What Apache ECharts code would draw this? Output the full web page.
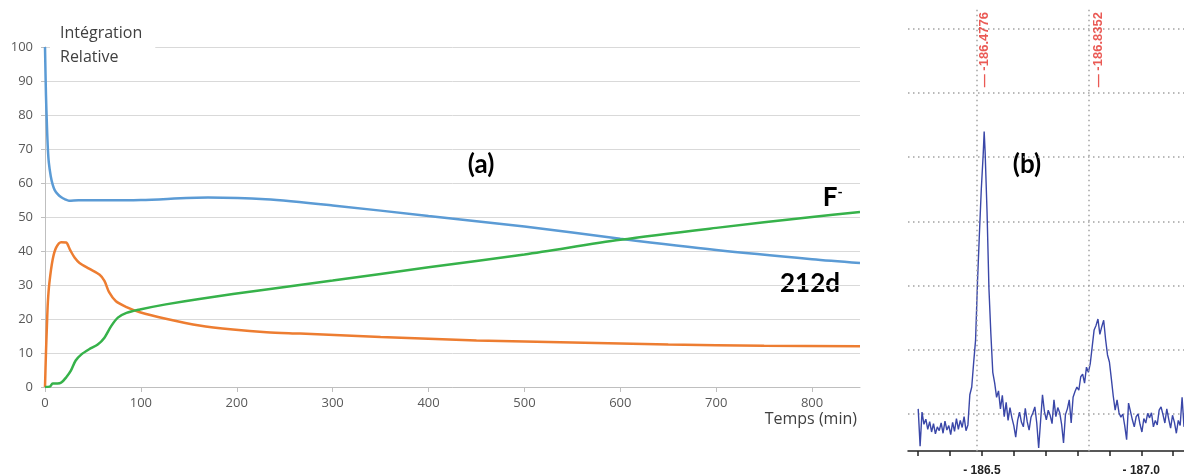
<!DOCTYPE html>
<html><head><meta charset="utf-8">
<script src="https://cdn.jsdelivr.net/npm/echarts@6/dist/echarts.min.js"></script>
<style>html,body{margin:0;padding:0;background:#fff}#c{width:1184px;height:474px}</style>
</head><body><div id="c"></div>
<script>
// ---------- panel (a): relative integration vs time ----------
const timeTicks = [0, 100, 200, 300, 400, 500, 600, 700, 800];
const blue212d = [[0,100],[1,86],[2,77],[3,70],[4,66],[6,62],[8,59.5],[10,58],[13,56.8],[17,55.8],[21,55.2],[25,54.8],[35,54.9],[60,54.9],[100,55.0],[170,55.7],[230,55.2],[300,53.4],[400,50.3],[500,47.2],[600,43.6],[700,40.3],[800,37.6],[850,36.5]];
const orangeInter = [[0,0],[1,10],[2,18],[3,25],[4.6,30.7],[8,37.5],[11.6,41],[16.8,42.6],[22,42.5],[26,40.4],[31,38],[36,36.5],[46,34.8],[57,33],[62,31.2],[67,27.8],[74,25.2],[85,23.5],[99,22],[126,20.1],[161,18.1],[196,16.9],[231,16.1],[266,15.7],[350,14.7],[450,13.7],[550,13.1],[650,12.5],[750,12.1],[850,12.0]];
const greenF = [[0,0],[5,0.1],[8,1.0],[13,1.0],[17,1.3],[22,2.8],[27,4.8],[32,7.8],[38,9.6],[46,11.1],[55,12.5],[62,14.5],[69,17.9],[76,20.4],[85,21.8],[99,22.8],[126,24.3],[161,25.9],[231,28.7],[300,31.3],[400,35.2],[500,39.0],[600,43.3],[700,46.8],[800,50.0],[850,51.5]];

// ---------- panel (b): 19F NMR spectrum ----------
const specPpm = [
 -186.300,-186.306,-186.312,-186.318,-186.324,-186.330,-186.336,-186.342,-186.348,-186.354,
 -186.360,-186.366,-186.372,-186.378,-186.384,-186.390,-186.396,-186.402,-186.408,-186.414,
 -186.420,-186.426,-186.432,-186.438,-186.444,-186.450,-186.456,-186.462,-186.468,-186.474,
 -186.480,-186.486,-186.492,-186.498,-186.504,-186.507,-186.510,-186.516,-186.522,-186.528,
 -186.534,-186.540,-186.546,-186.552,-186.558,-186.564,-186.570,-186.576,-186.582,-186.588,
 -186.594,-186.600,-186.606,-186.612,-186.618,-186.624,-186.630,-186.636,-186.642,-186.648,
 -186.654,-186.660,-186.666,-186.672,-186.678,-186.684,-186.690,-186.696,-186.702,-186.708,
 -186.714,-186.720,-186.726,-186.732,-186.738,-186.744,-186.750,-186.756,-186.762,-186.768,
 -186.774,-186.780,-186.786,-186.792,-186.798,-186.804,-186.810,-186.816,-186.822,-186.828,
 -186.834,-186.840,-186.846,-186.852,-186.858,-186.864,-186.870,-186.876,-186.882,-186.888,
 -186.894,-186.900,-186.906,-186.912,-186.918,-186.924,-186.930,-186.936,-186.942,-186.948,
 -186.954,-186.960,-186.966,-186.972,-186.978,-186.984,-186.990,-186.996,-187.002,-187.008,
 -187.014,-187.020,-187.026,-187.032,-187.038,-187.044,-187.050,-187.056,-187.062,-187.068,
 -187.074,-187.080,-187.086,-187.092,-187.098,-187.104,-187.110,-187.116,-187.122,-187.128,
 -187.134];
const specInt = [
 10.8, 5.0,10.3, 8.4, 9.2, 7.6, 8.8, 7.2, 8.5, 6.9,
  8.0, 7.4, 8.6, 7.0, 8.9, 7.5, 8.2, 6.8, 8.7, 7.3,
  9.3, 7.6, 9.0, 7.9, 9.6, 7.4, 8.3,13.0,14.2,18.0,
 21.5,30.5,38.0,45.0,50.5,54.0,50.8,41.5,29.5,22.5,
 16.5,14.8,12.6,13.6,10.8,12.9, 9.6,11.8, 9.0,11.0,
  9.4, 8.2, 6.4, 9.0,10.3, 8.7, 8.0,10.9, 8.8, 7.5,
  9.5,10.2,11.1, 8.6, 4.7, 8.9,13.0,10.4, 9.1,10.6,
  9.8, 8.5,12.2, 9.6,11.0,10.2, 8.4, 5.5, 9.9,10.8,
 12.2, 8.6,12.6,13.5,14.2,13.7,15.8,16.2,14.8,17.3,
 16.5,17.9,20.5,23.1,23.8,24.8,22.4,23.6,24.6,21.6,
 19.2,18.1,15.5,12.8,10.6,12.2,10.2, 9.5,10.0, 8.2,
  6.0,11.7,10.4, 9.1, 8.0, 9.6,10.0, 8.4, 7.2, 9.3,
  8.6,10.1, 9.4,10.2, 8.0, 9.0, 8.3,10.6,11.1, 9.9,
  8.6,10.8, 9.2, 7.8, 9.8, 8.7, 7.0, 9.0, 8.2,12.6,
  8.0];
const specTicks = [-186.3,-186.4,-186.5,-186.6,-186.7,-186.8,-186.9,-187.0,-187.1];
const specTickLabels = [-186.5, -187.0];
const peakPpm = [-186.5063, -186.8656];
const peakText = ['-186.4776', '-186.8352'];
const peakLabelLevel = 60.9;
const guidePpm = [-186.4844, -186.8366];

const chart = echarts.init(document.getElementById('c'), null, {renderer: 'canvas'});
const lineBase = {type: 'line', xAxisIndex: 0, yAxisIndex: 0, showSymbol: false, smooth: 0.3, silent: true};
const dotted = {color: '#a3a3a3', type: [1.5, 3.5], width: 1.5};

chart.setOption({
  animation: false,
  backgroundColor: '#fff',
  title: {
    text: 'Intégration\nRelative', left: 50, top: 21, padding: [0, 13, 0, 10], backgroundColor: '#fff',
    textStyle: {fontFamily: 'Open Sans', fontSize: 16, fontWeight: 'normal', color: '#404040', lineHeight: 24}
  },
  grid: [
    {left: 45, right: 324, top: 47, bottom: 87, containLabel: false, outerBoundsMode: 'none'},
    {left: 908, right: 0, top: 7, bottom: -4.2, containLabel: false, outerBoundsMode: 'none'}
  ],
  xAxis: [
    {gridIndex: 0, type: 'value', min: 0, max: 850, interval: 100,
     axisLine: {show: true, onZero: false, lineStyle: {color: '#bfbfbf', width: 1}},
     axisTick: {show: true, length: 5, customValues: timeTicks, lineStyle: {color: '#bfbfbf'}},
     axisLabel: {customValues: timeTicks, color: '#595959', fontSize: 13, fontFamily: 'Open Sans', margin: 10},
     splitLine: {show: false},
     name: 'Temps (min)', nameLocation: 'end', nameGap: -3, nameMoveOverlap: false,
     nameTextStyle: {align: 'right', verticalAlign: 'top', padding: [24, 0, 0, 0], fontSize: 16, color: '#404040', fontFamily: 'Open Sans'}},
    {gridIndex: 1, type: 'value', inverse: true, min: -187.134, max: -186.268, offset: -27.2,
     axisLine: {show: true, onZero: false, lineStyle: {color: '#222', width: 1.5}},
     axisTick: {show: true, length: 5, customValues: specTicks, lineStyle: {color: '#222', width: 1.5}},
     axisLabel: {customValues: specTickLabels, formatter: v => '- ' + Math.abs(v).toFixed(1), color: '#222', fontSize: 12, fontWeight: 'bold', fontFamily: 'Liberation Sans', margin: 14},
     splitLine: {show: false}}
  ],
  yAxis: [
    {gridIndex: 0, type: 'value', min: 0, max: 100, interval: 10,
     axisLine: {show: true, lineStyle: {color: '#bfbfbf', width: 1}},
     axisTick: {show: true, length: 4, lineStyle: {color: '#bfbfbf'}},
     axisLabel: {color: '#595959', fontSize: 13, fontFamily: 'Open Sans', margin: 12},
     splitLine: {show: true, lineStyle: {color: '#d9d9d9', width: 1}}},
    {gridIndex: 1, type: 'value', min: 0, max: 73.4, interval: 10,
     axisLine: {show: false}, axisTick: {show: false}, axisLabel: {show: false},
     splitLine: {show: true, showMinLine: false, showMaxLine: false, lineStyle: dotted}}
  ],
  series: [
    Object.assign({}, lineBase, {name: '212d', data: blue212d, lineStyle: {color: '#5b9bd5', width: 2.5}, itemStyle: {color: '#5b9bd5'}}),
    Object.assign({}, lineBase, {name: 'intermédiaire', data: orangeInter, lineStyle: {color: '#ed7d31', width: 2.5}, itemStyle: {color: '#ed7d31'}}),
    Object.assign({}, lineBase, {name: 'F-', data: greenF, lineStyle: {color: '#36b24a', width: 2.5}, itemStyle: {color: '#36b24a'}}),
    {type: 'line', name: 'spectre', xAxisIndex: 1, yAxisIndex: 1, showSymbol: false, silent: true,
     data: specPpm.map((p, i) => [p, specInt[i]]),
     lineStyle: {color: '#3a47a8', width: 1.4}, itemStyle: {color: '#3a47a8'},
     markLine: {silent: true, symbol: ['none', 'none'], label: {show: false}, lineStyle: dotted,
       data: guidePpm.map(p => [{coord: [p, 4.2]}, {coord: [p, 73.4]}])}},
    {type: 'scatter', name: 'pics', xAxisIndex: 1, yAxisIndex: 1, silent: true, symbolSize: 1,
     itemStyle: {color: 'rgba(0,0,0,0)'},
     data: peakPpm.map((p, i) => ({value: [p, peakLabelLevel], name: peakText[i]})),
     label: {show: true, formatter: d => '\u2014 ' + d.name, rotate: 90, position: 'inside', align: 'left', verticalAlign: 'middle',
       color: '#e5312b', fontSize: 13, fontWeight: 'bold', fontFamily: 'Liberation Sans Narrow, Liberation Sans'}}
  ],
  graphic: [
    {type: 'text', x: 481, y: 165, style: {text: '(a)', fill: '#000', font: 'bold 26px Lato', align: 'center', verticalAlign: 'middle'}},
    {type: 'text', x: 1027, y: 165, style: {text: '(b)', fill: '#000', font: 'bold 26px Lato', align: 'center', verticalAlign: 'middle'}},
    {type: 'text', x: 830, y: 198, style: {text: 'F', fill: '#000', font: 'bold 26px Lato', align: 'center', verticalAlign: 'middle'}},
    {type: 'text', x: 840, y: 192, style: {text: '-', fill: '#000', font: 'bold 14px Lato', align: 'center', verticalAlign: 'middle'}},
    {type: 'text', x: 810, y: 284, style: {text: '212d', fill: '#000', font: 'bold 26px Lato', align: 'center', verticalAlign: 'middle'}}
  ]
});
</script></body></html>
